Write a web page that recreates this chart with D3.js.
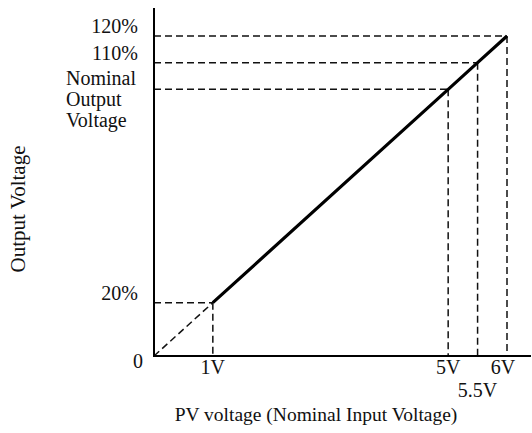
<!DOCTYPE html>
<html><head><meta charset="utf-8">
<script src="https://cdn.jsdelivr.net/npm/d3@7"></script>
<style>
body{margin:0;background:#fff;}
text{font-family:"Liberation Serif","Times New Roman",serif;fill:#111;}
</style></head>
<body><svg id="c" width="532" height="433"></svg>
<script>
// data
const inputV = [1, 5, 5.5, 6];            // PV voltage (V)
const outputPct = [20, 100, 110, 120];    // output voltage (%)
const xTickLabels = ["1V", "5V", "5.5V", "6V"];
const yTickLabels = ["20%", "Nominal|Output|Voltage", "110%", "120%"];
const origin = {v: 0, p: 0};

const svg = d3.select("#c");
const x = d3.scaleLinear().domain([0, 6]).range([154, 507]);
const y = d3.scaleLinear().domain([0, 120]).range([356, 36]);
const fs = 20;

// guide dashed lines
inputV.forEach((v, i) => {
  const p = outputPct[i];
  svg.append("line").attr("x1", x(0)).attr("x2", x(v)).attr("y1", y(p)).attr("y2", y(p))
    .attr("stroke", "#111").attr("stroke-width", 1.5).attr("stroke-dasharray", "7,4");
  svg.append("line").attr("x1", x(v)).attr("x2", x(v)).attr("y1", y(p)).attr("y2", y(0))
    .attr("stroke", "#111").attr("stroke-width", 1.5).attr("stroke-dasharray", "7,4");
});
// dashed from origin
svg.append("line").attr("x1", x(origin.v)).attr("y1", y(origin.p))
  .attr("x2", x(inputV[0])).attr("y2", y(outputPct[0]))
  .attr("stroke", "#111").attr("stroke-width", 1.5).attr("stroke-dasharray", "7,4");
// solid line
const line = d3.line().x((d, i) => x(inputV[i])).y((d, i) => y(outputPct[i]));
svg.append("path").datum(inputV).attr("d", line).attr("fill", "none")
  .attr("stroke", "#000").attr("stroke-width", 3.2);

// axes
svg.append("line").attr("x1", x(0)).attr("x2", x(0)).attr("y1", 8).attr("y2", y(0))
  .attr("stroke", "#000").attr("stroke-width", 2);
svg.append("line").attr("x1", x(0) - 1).attr("x2", 531).attr("y1", y(0)).attr("y2", y(0))
  .attr("stroke", "#000").attr("stroke-width", 2.2);

// y tick labels
yTickLabels.forEach((t, i) => {
  const p = outputPct[i];
  const parts = t.split("|");
  if (parts.length === 1) {
    svg.append("text").attr("x", 138).attr("y", y(p) - 3).attr("text-anchor", "end")
      .attr("font-size", fs).text(t);
  } else {
    parts.forEach((s, j) => {
      svg.append("text").attr("x", 66).attr("y", y(p) - 4 + j * 21).attr("text-anchor", "start")
        .attr("font-size", fs).text(s);
    });
  }
});
svg.append("text").attr("x", 143).attr("y", y(0) + 12).attr("text-anchor", "end")
  .attr("font-size", fs).text("0");

// x tick labels
const xOff = [0, 0, 0, -4];
xTickLabels.forEach((t, i) => {
  const low = t === "5.5V";
  svg.append("text").attr("x", x(inputV[i]) + xOff[i]).attr("y", y(0) + (low ? 41 : 18))
    .attr("text-anchor", "middle").attr("font-size", fs).text(t);
});

// axis titles
svg.append("text").attr("x", 316).attr("y", 421).attr("text-anchor", "middle")
  .attr("font-size", 19.5).text("PV voltage (Nominal Input Voltage)");
svg.append("text").attr("transform", "translate(25,209) rotate(-90)").attr("text-anchor", "middle")
  .attr("font-size", 21).text("Output Voltage");
</script></body></html>
